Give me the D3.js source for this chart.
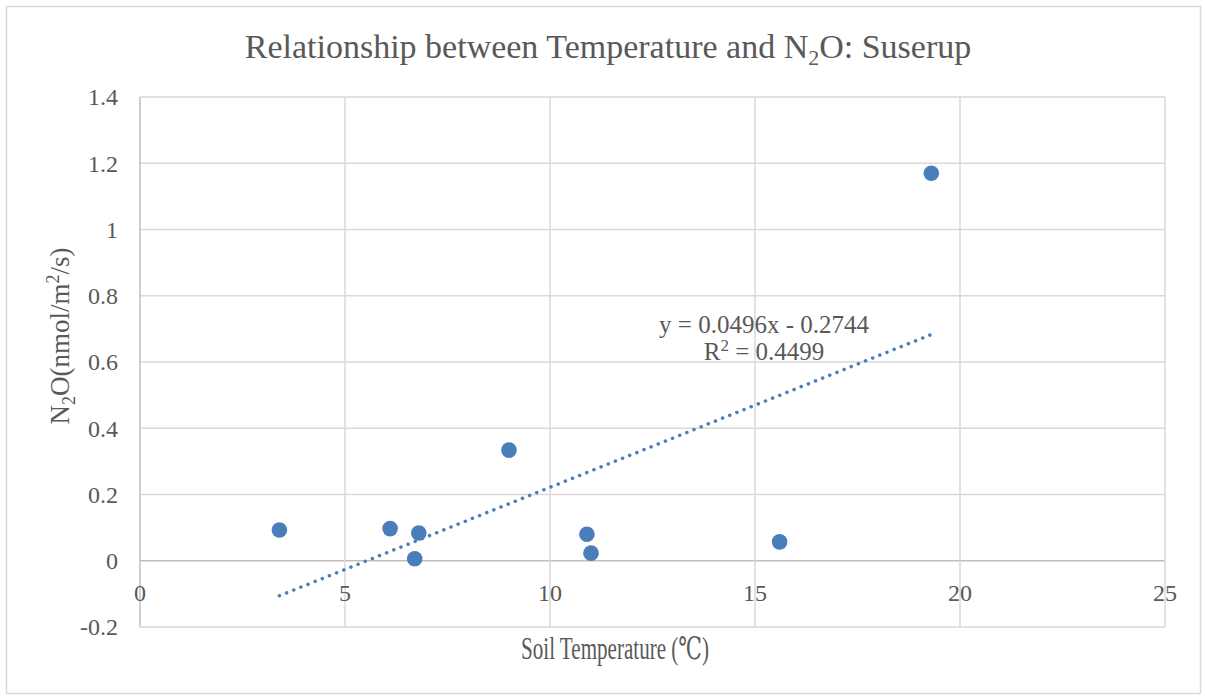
<!DOCTYPE html>
<html>
<head>
<meta charset="utf-8">
<script src="https://cdn.jsdelivr.net/npm/d3@7.9.0/dist/d3.min.js"></script>
<style>
  body { margin: 0; background: #fff; }
  svg text { font-family: "Liberation Serif", "DejaVu Serif", serif; fill: #595959; }
</style>
</head>
<body>
<div id="chart"></div>
<script>
// DATA
const soilTemp = [3.4, 6.1, 6.7, 6.8, 9.0, 10.9, 11.0, 15.6, 19.3];
const n2oFlux = [0.093, 0.097, 0.006, 0.084, 0.334, 0.08, 0.023, 0.057, 1.17];
const xTicks = [0, 5, 10, 15, 20, 25];
const yTicks = [-0.2, 0, 0.2, 0.4, 0.6, 0.8, 1, 1.2, 1.4];
const trendSlope = 0.0496;
const trendIntercept = -0.2744;
const trendR2 = 0.4499;

const points = soilTemp.map((t, i) => ({ t, n: n2oFlux[i] }));

const width = 1205;
const height = 696;

const svg = d3.select('#chart')
  .append('svg')
  .attr('width', width)
  .attr('height', height);

// chart border
svg.append('rect')
  .attr('x', 6.5).attr('y', 6.5)
  .attr('width', 1194).attr('height', 687)
  .attr('fill', 'none')
  .attr('stroke', '#d9d9d9')
  .attr('stroke-width', 1.5);

const x = d3.scaleLinear().domain([0, 25]).range([140, 1165]);
const y = d3.scaleLinear().domain([-0.2, 1.4]).range([627, 97]);

// GRID
svg.append('g')
  .selectAll('line')
  .data(yTicks)
  .join('line')
  .attr('x1', x(0)).attr('x2', x(25))
  .attr('y1', d => y(d)).attr('y2', d => y(d))
  .attr('stroke', d => d === 0 ? '#bfbfbf' : '#d9d9d9')
  .attr('stroke-width', 1.5);

svg.append('g')
  .selectAll('line')
  .data(xTicks)
  .join('line')
  .attr('x1', d => x(d)).attr('x2', d => x(d))
  .attr('y1', y(1.4)).attr('y2', y(-0.2))
  .attr('stroke', d => d === 0 ? '#bfbfbf' : '#d9d9d9')
  .attr('stroke-width', 1.5);

// TICK LABELS
svg.append('g')
  .selectAll('text')
  .data(yTicks)
  .join('text')
  .attr('x', x(0) - 22)
  .attr('y', d => y(d))
  .attr('dy', '0.35em')
  .attr('text-anchor', 'end')
  .style('font-size', '24px')
  .text(d => String(d));

svg.append('g')
  .selectAll('text')
  .data(xTicks)
  .join('text')
  .attr('x', d => x(d))
  .attr('y', y(0) + 32)
  .attr('dy', '0.35em')
  .attr('text-anchor', 'middle')
  .style('font-size', '24px')
  .text(d => d);

// TRENDLINE
const [tMin, tMax] = d3.extent(soilTemp);
const line = d3.line()
  .x(d => x(d))
  .y(d => y(trendSlope * d + trendIntercept));

svg.append('path')
  .datum([tMin, tMax])
  .attr('d', line)
  .attr('fill', 'none')
  .attr('stroke', '#4a7ebb')
  .attr('stroke-width', 3.5)
  .attr('stroke-linecap', 'round')
  .attr('stroke-dasharray', '0.1 7.6');

// POINTS
svg.append('g')
  .selectAll('circle')
  .data(points)
  .join('circle')
  .attr('cx', d => x(d.t))
  .attr('cy', d => y(d.n))
  .attr('r', 7.8)
  .attr('fill', '#4a7ebb');

// EQUATION
const eq = svg.append('text')
  .attr('text-anchor', 'middle')
  .style('font-size', '25px');
eq.append('tspan')
  .attr('x', 764).attr('y', 333)
  .text(`y = ${trendSlope}x - ${Math.abs(trendIntercept)}`);
const r2 = eq.append('tspan').attr('x', 764).attr('y', 360);
r2.append('tspan').text('R');
r2.append('tspan').attr('dy', -9).style('font-size', '17px').text('2');
r2.append('tspan').attr('dy', 9).text(` = ${trendR2}`);

// TITLE
const title = svg.append('text')
  .attr('x', 608).attr('y', 58)
  .attr('text-anchor', 'middle')
  .style('font-size', '34px');
title.append('tspan').text('Relationship between Temperature and N');
title.append('tspan').attr('dy', 7).style('font-size', '22px').text('2');
title.append('tspan').attr('dy', -7).text('O: Suserup');

// AXIS TITLES
svg.append('text')
  .attr('x', 615).attr('y', 659)
  .attr('text-anchor', 'middle')
  .style('font-size', '31px')
  .attr('textLength', 188)
  .attr('lengthAdjust', 'spacingAndGlyphs')
  .text('Soil Temperature (℃)');

const yt = svg.append('text')
  .attr('transform', 'translate(69,336) rotate(-90)')
  .attr('text-anchor', 'middle')
  .style('font-size', '27px');
yt.append('tspan').text('N');
yt.append('tspan').attr('dy', 6).style('font-size', '18px').text('2');
yt.append('tspan').attr('dy', -6).text('O(nmol/m');
yt.append('tspan').attr('dy', -10).style('font-size', '18px').text('2');
yt.append('tspan').attr('dy', 10).text('/s)');
</script>
</body>
</html>
